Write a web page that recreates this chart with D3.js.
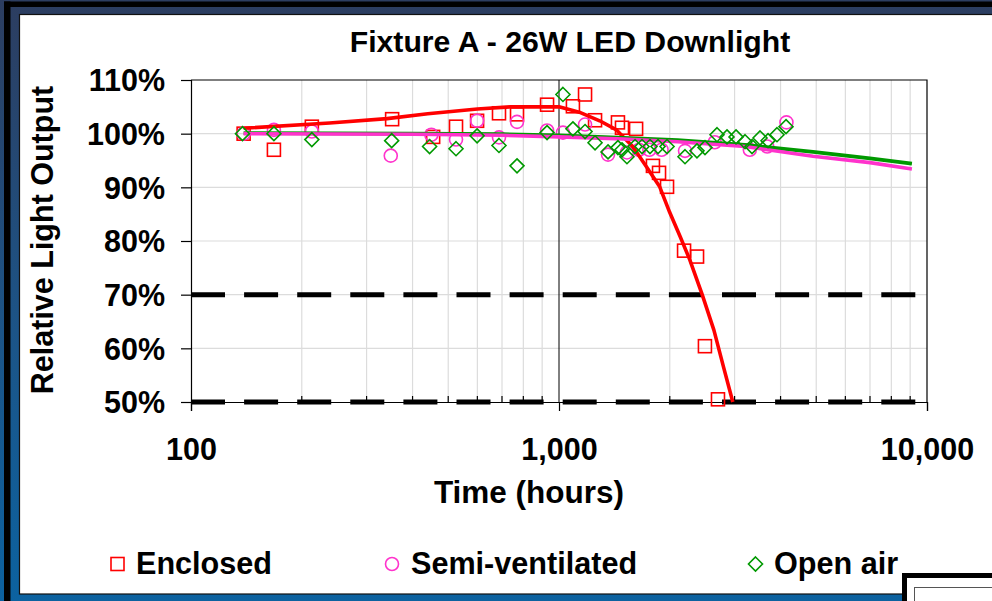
<!DOCTYPE html>
<html>
<head>
<meta charset="utf-8">
<script src="https://cdn.jsdelivr.net/npm/d3@7"></script>
<style>
  html, body { margin: 0; padding: 0; background: #fff; }
  svg { display: block; }
  text { font-family: "Liberation Sans", Arial, sans-serif; font-weight: bold; fill: #000; }
</style>
</head>
<body>
<svg id="chart" width="992" height="601"></svg>
<script>
// Measured samples: hours of operation and relative light output (%)
const enclosedHours  = [139, 168, 213, 352, 455, 525, 599, 687, 769, 928, 1091, 1177, 1253, 1446, 1483, 1620, 1800, 1870, 1966, 2187, 2372, 2492, 2704];
const enclosedValues = [100.0, 97.0, 101.3, 102.7, 99.4, 101.3, 102.4, 103.8, 103.6, 105.4, 105.1, 107.3, 102.5, 102.1, 101.1, 100.9, 94.0, 92.7, 90.1, 78.2, 77.1, 60.4, 50.5];

const semiHours  = [139, 168, 213, 349, 450, 525, 599, 687, 769, 928, 1025, 1177, 1359, 1530, 1650, 1760, 1900, 2200, 2650, 3300, 3680, 4150];
const semiValues = [100.0, 100.7, 100.4, 95.9, 99.8, 98.9, 102.4, 99.3, 102.2, 100.6, 100.2, 101.7, 96.1, 96.5, 97.0, 97.0, 97.0, 96.8, 98.4, 97.0, 97.6, 102.1];

const openHours  = [138, 168, 213, 351, 445, 525, 599, 687, 769, 928, 1025, 1091, 1177, 1253, 1359, 1446, 1483, 1530, 1609, 1681, 1767, 1858, 1966, 2200, 2371, 2493, 2688, 2861, 3027, 3203, 3346, 3518, 3698, 3912, 4139];
const openValues = [100.0, 100.0, 98.9, 98.7, 97.6, 97.2, 99.6, 97.8, 94.0, 100.2, 107.3, 100.9, 100.4, 98.3, 96.6, 97.4, 97.0, 95.7, 97.6, 97.6, 97.6, 97.6, 97.6, 95.7, 96.8, 97.4, 99.8, 99.4, 99.4, 98.5, 97.6, 99.2, 98.7, 99.8, 101.3];

// Fitted trend curves
const enclosedFitHours  = [139, 238, 341, 440, 600, 736, 1000, 1135, 1290, 1433, 1586, 1730, 1878, 2000, 2135, 2267, 2450, 2636, 2800, 2967];
const enclosedFitValues = [101.0, 102.0, 102.8, 103.7, 104.6, 105.0, 105.0, 104.0, 102.4, 100.7, 97.6, 93.8, 90.1, 85.3, 80.8, 76.5, 70.0, 63.4, 56.5, 50.0];
const semiFitHours  = [139, 400, 700, 1000, 1500, 2100, 3200, 4900, 7000, 9100];
const semiFitValues = [100.0, 99.9, 99.7, 99.4, 99.0, 98.5, 97.6, 95.8, 94.6, 93.4];
const openFitHours  = [139, 400, 700, 1000, 1500, 2100, 3200, 4900, 7000, 9100];
const openFitValues = [100.1, 100.0, 99.9, 99.7, 99.2, 98.8, 97.9, 96.6, 95.4, 94.4];

// Axes and reference levels
const yTickValues = [50, 60, 70, 80, 90, 100, 110];
const xTickValues = [100, 1000, 10000];
const xTickLabels = ["100", "1,000", "10,000"];
const referenceLevels = [70, 50];

const seriesNames = ["Enclosed", "Semi-ventilated", "Open air"];
const titleText = "Fixture A - 26W LED Downlight";
const xTitleText = "Time (hours)";
const yTitleText = "Relative Light Output";

const svg = d3.select("#chart");
const W = 992, H = 601;

// ---- frame ----
const defs = svg.append("defs");
const grad = defs.append("linearGradient").attr("id", "bg").attr("x1", 0).attr("y1", 0).attr("x2", 0).attr("y2", 1);
grad.append("stop").attr("offset", "0%").attr("stop-color", "#2c3d60");
grad.append("stop").attr("offset", "55%").attr("stop-color", "#1c5487");
grad.append("stop").attr("offset", "100%").attr("stop-color", "#0c62a0");
svg.append("rect").attr("width", W).attr("height", H).attr("fill", "url(#bg)");
svg.append("rect").attr("x", 4).attr("y", 1.5).attr("width", W - 4).attr("height", 5.5).attr("fill", "#000");
svg.append("rect").attr("x", 4).attr("y", 1.5).attr("width", 6.5).attr("height", H).attr("fill", "#000");
svg.append("rect").attr("x", 19.5).attr("y", 14.5).attr("width", W).attr("height", 579.5)
  .attr("fill", "#fff").attr("stroke", "#111").attr("stroke-width", 1.2);

// ---- scales ----
const x = d3.scaleLog().domain([100, 10000]).range([191, 927]);
const y = d3.scaleLinear().domain([50, 110]).range([402, 80]);
const [x0, x1] = x.range();
const [y0, y1] = y.range();

const g = svg.append("g");

// minor decade gridlines
const minorTicks = x.ticks().filter(t => xTickValues.indexOf(t) < 0);
g.append("g").selectAll("line").data(minorTicks).join("line")
  .attr("x1", d => x(d)).attr("x2", d => x(d)).attr("y1", y1).attr("y2", y0)
  .attr("stroke", "#dcdcdc").attr("stroke-width", 1.2);
g.append("g").selectAll("line").data(yTickValues.filter(v => v > 50 && v < 110)).join("line")
  .attr("x1", x0).attr("x2", x1).attr("y1", d => y(d)).attr("y2", d => y(d))
  .attr("stroke", "#dcdcdc").attr("stroke-width", 1.2);

// decade line at 1,000 h
g.append("line").attr("x1", x(1000)).attr("x2", x(1000)).attr("y1", y1).attr("y2", y0)
  .attr("stroke", "#000").attr("stroke-width", 1);

// plot border (top and right)
g.append("path").attr("d", `M${x0},${y1}H${x1}V${y0}`).attr("fill", "none").attr("stroke", "#000").attr("stroke-width", 1.2);

// y axis
const yAxis = g.append("g").attr("transform", `translate(${x0},0)`)
  .call(d3.axisLeft(y).tickValues(yTickValues).tickSize(10).tickPadding(16).tickFormat(d => d + "%"));
yAxis.select(".domain").attr("stroke", "#000").attr("stroke-width", 1.2);
yAxis.selectAll(".tick line").attr("stroke", "#000").attr("stroke-width", 1.2);
yAxis.selectAll("text").attr("font-size", 30.5).attr("dy", "0.36em")
  .style("font-family", "'Liberation Sans', Arial, sans-serif").style("font-weight", "bold");

// x axis
const xAxis = g.append("g").attr("transform", `translate(0,${y0})`)
  .call(d3.axisBottom(x).tickValues(xTickValues).tickSize(9).tickPadding(27)
    .tickFormat((d, i) => xTickLabels[i]));
xAxis.select(".domain").attr("stroke", "#000").attr("stroke-width", 1.2);
xAxis.selectAll(".tick line").attr("stroke", "#000").attr("stroke-width", 1.2);
xAxis.selectAll("text").attr("font-size", 30.5).attr("dy", "0.71em")
  .style("font-family", "'Liberation Sans', Arial, sans-serif").style("font-weight", "bold");
// inward minor ticks
g.append("g").selectAll("line").data(minorTicks).join("line")
  .attr("x1", d => x(d)).attr("x2", d => x(d)).attr("y1", y0).attr("y2", y0 - 6)
  .attr("stroke", "#000").attr("stroke-width", 1.2);

// reference levels (70 % and 50 %)
g.append("g").selectAll("line").data(referenceLevels).join("line")
  .attr("x1", x0).attr("x2", x1 - 2).attr("y1", d => y(d)).attr("y2", d => y(d))
  .attr("stroke", "#000").attr("stroke-width", 5).attr("stroke-dasharray", "34 19.1");

// ---- markers ----
const red = "#ff0000", pink = "#ff33cc", green = "#009900";
const zip = (hs, vs) => hs.map((h, i) => ({ h, v: vs[i] }));

const sq = 13, rc = 6.5, dm = 7;
g.append("g").selectAll("rect").data(zip(enclosedHours, enclosedValues)).join("rect")
  .attr("x", d => x(d.h) - sq / 2).attr("y", d => y(d.v) - sq / 2)
  .attr("width", sq).attr("height", sq)
  .attr("fill", "none").attr("stroke", red).attr("stroke-width", 1.6);
g.append("g").selectAll("circle").data(zip(semiHours, semiValues)).join("circle")
  .attr("cx", d => x(d.h)).attr("cy", d => y(d.v)).attr("r", rc)
  .attr("fill", "none").attr("stroke", pink).attr("stroke-width", 1.6);

// ---- trend curves ----
const line = d3.line().x(d => x(d.h)).y(d => y(d.v));
g.append("path").datum(zip(enclosedFitHours, enclosedFitValues)).attr("d", line)
  .attr("fill", "none").attr("stroke", red).attr("stroke-width", 3.6).attr("stroke-linejoin", "round");
g.append("path").datum(zip(openFitHours, openFitValues)).attr("d", line)
  .attr("fill", "none").attr("stroke", green).attr("stroke-width", 3.8).attr("stroke-linejoin", "round");
g.append("path").datum(zip(semiFitHours, semiFitValues)).attr("d", line)
  .attr("fill", "none").attr("stroke", pink).attr("stroke-width", 3.6).attr("stroke-linejoin", "round");

const diamond = (cx, cy, r) => `M${cx},${cy - r}L${cx + r},${cy}L${cx},${cy + r}L${cx - r},${cy}Z`;
g.append("g").selectAll("path").data(zip(openHours, openValues)).join("path")
  .attr("d", d => diamond(x(d.h), y(d.v), dm))
  .attr("fill", "none").attr("stroke", green).attr("stroke-width", 1.6);

// ---- titles ----
svg.append("text").attr("x", 570).attr("y", 52).attr("text-anchor", "middle")
  .attr("font-size", 30.2).text(titleText);
svg.append("text").attr("x", 529).attr("y", 503).attr("text-anchor", "middle")
  .attr("font-size", 31.5).text(xTitleText);
svg.append("text").attr("transform", "translate(53,240) rotate(-90)").attr("text-anchor", "middle")
  .attr("font-size", 30.5).text(yTitleText);

// ---- legend ----
const legendY = 564;
const legend = svg.append("g");
const legendItems = [
  { name: seriesNames[0], mx: 117.5, tx: 136, kind: "square", color: red },
  { name: seriesNames[1], mx: 392, tx: 411, kind: "circle", color: pink },
  { name: seriesNames[2], mx: 755.5, tx: 774, kind: "diamond", color: green }
];
legendItems.forEach(it => {
  if (it.kind === "square") {
    legend.append("rect").attr("x", it.mx - 6.5).attr("y", legendY - 6.5).attr("width", 13).attr("height", 13)
      .attr("fill", "none").attr("stroke", it.color).attr("stroke-width", 1.6);
  } else if (it.kind === "circle") {
    legend.append("circle").attr("cx", it.mx).attr("cy", legendY).attr("r", 6.5)
      .attr("fill", "none").attr("stroke", it.color).attr("stroke-width", 1.6);
  } else {
    legend.append("path").attr("d", diamond(it.mx, legendY, 7))
      .attr("fill", "none").attr("stroke", it.color).attr("stroke-width", 1.6);
  }
  legend.append("text").attr("x", it.tx).attr("y", legendY + 9.5).attr("font-size", 30.6).text(it.name);
});

// ---- corner box ----
svg.append("rect").attr("x", 904.5).attr("y", 575.5).attr("width", 120).attr("height", 60)
  .attr("fill", "#fff").attr("stroke", "#000").attr("stroke-width", 5);
svg.append("rect").attr("x", 914.5).attr("y", 587.5).attr("width", 110).attr("height", 50)
  .attr("fill", "#fff").attr("stroke", "#555").attr("stroke-width", 1);
</script>
</body>
</html>
